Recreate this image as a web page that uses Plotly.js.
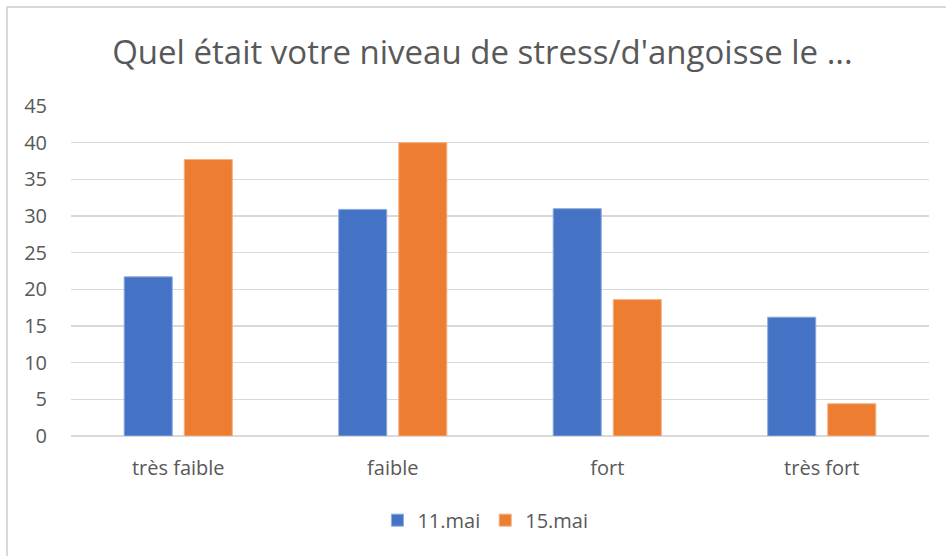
<!DOCTYPE html>
<html><head><meta charset="utf-8">
<script src="https://cdn.plot.ly/plotly-3.0.1.min.js"></script>
<style>
body{margin:0;padding:0;background:#fff;}
#frame{position:absolute;left:6px;top:6px;width:960px;height:600px;border-left:2px solid #d9d9d9;border-top:2px solid #d9d9d9;pointer-events:none;z-index:5;}
#chart{position:absolute;left:0;top:0;width:946px;height:556px;}
</style>
</head><body>
<div id="chart"></div><div id="frame"></div>
<script>
const categories = ["très faible", "faible", "fort", "très fort"];
const seriesNames = ["11.mai", "15.mai"];
const values11 = [21.7, 30.9, 31.0, 16.2];
const values15 = [37.7, 40.0, 18.6, 4.4];
const yTicks = [0, 5, 10, 15, 20, 25, 30, 35, 40, 45];

const font = "Open Sans, sans-serif";
const grey = "#595959";
const data = [
  {type:"bar", name:seriesNames[0], x:categories, y:values11, marker:{color:"#4472c4", line:{color:"#8faadc", width:1}}, hoverinfo:"none"},
  {type:"bar", name:seriesNames[1], x:categories, y:values15, marker:{color:"#ed7d31", line:{color:"#f4b183", width:1}}, hoverinfo:"none"}
];
const layout = {
  width:946, height:556,
  margin:{l:71, r:17, t:106, b:120},
  paper_bgcolor:"#fff", plot_bgcolor:"#fff",
  barmode:"group", bargap:0.44, bargroupgap:0.2,
  title:{text:"Quel était votre niveau de stress/d'angoisse le ...", font:{family:font, size:33, color:grey}, x:0.51, xanchor:"center", y:0.905, yanchor:"middle"},
  xaxis:{type:"category", tickfont:{family:font, size:20, color:grey}, showgrid:false, showline:false, ticks:"outside", ticklen:14, tickcolor:"rgba(0,0,0,0)", automargin:false},
  yaxis:{range:[0,45], tickvals:yTicks, tickfont:{family:font, size:20, color:grey}, gridcolor:"#d9d9d9", gridwidth:1.5, zeroline:true, zerolinecolor:"#d9d9d9", zerolinewidth:1.5, showline:false, ticks:"outside", ticklen:19, tickcolor:"rgba(0,0,0,0)", automargin:false},
  legend:{orientation:"h", x:0.483, xanchor:"center", y:-0.255, yanchor:"middle", font:{family:font, size:20, color:grey}, itemwidth:30, traceorder:"normal"},
  showlegend:true
};
Plotly.newPlot("chart", data, layout, {displayModeBar:false, staticPlot:true});
</script>
</body></html>
